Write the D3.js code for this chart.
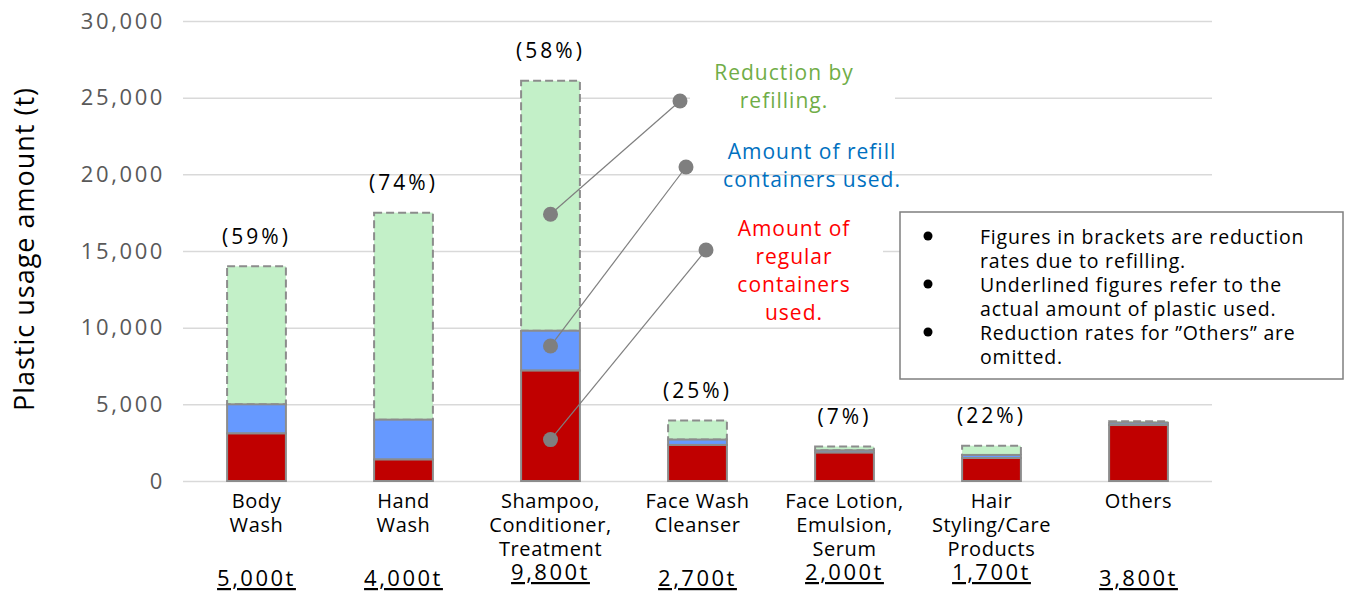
<!DOCTYPE html>
<html>
<head>
<meta charset="utf-8">
<script src="https://cdn.jsdelivr.net/npm/d3@7"></script>
<style>
  body { margin: 0; background: #fff; }
  text { font-family: "Open Sans", "Noto Sans", sans-serif; letter-spacing: 0.6px; }
</style>
</head>
<body>
<script>
// values (t)
const categories = [
  ["Body", "Wash"],
  ["Hand", "Wash"],
  ["Shampoo,", "Conditioner,", "Treatment"],
  ["Face Wash", "Cleanser"],
  ["Face Lotion,", "Emulsion,", "Serum"],
  ["Hair", "Styling/Care", "Products"],
  ["Others"]
];
const regularUsed = [3100, 1400, 7200, 2350, 1850, 1500, 3650];
const refillUsed = [1900, 2600, 2600, 350, 150, 200, 150];
const reduction = [9000, 13500, 16300, 1250, 250, 600, 100];
const rateLabels = ["(59%)", "(74%)", "(58%)", "(25%)", "(7%)", "(22%)", ""];
const actualLabels = ["5,000t", "4,000t", "9,800t", "2,700t", "2,000t", "1,700t", "3,800t"];
const yTicks = [0, 5000, 10000, 15000, 20000, 25000, 30000];

const notes = [
  ["Figures in brackets are reduction", "rates due to refilling."],
  ["Underlined figures refer to the", "actual amount of plastic used."],
  ["Reduction rates for \u201dOthers\u201d are", "omitted."]
];

// callouts: which segment value the dot sits on in the Shampoo bar
const callouts = [
  {lines: ["Reduction by", "refilling."], color: "#70ad47", value: 17400},
  {lines: ["Amount of refill", "containers used."], color: "#0070c0", value: 8800},
  {lines: ["Amount of", "regular", "containers", "used."], color: "#ff0000", value: 2700}
];

const W = 1357, H = 594;
const margin = {left: 183, right: 145, top: 21, bottom: 113};
const width = W - margin.left - margin.right;
const height = H - margin.top - margin.bottom;

const svg = d3.select("body").append("svg").attr("width", W).attr("height", H);
const g = svg.append("g").attr("transform", `translate(${margin.left}, ${margin.top})`);

const x = d3.scaleBand().domain(d3.range(categories.length)).range([0, width]).paddingInner(0.6).paddingOuter(0.3);
const y = d3.scaleLinear().domain([0, 30000]).range([height, 0]);

// y axis with gridlines
const yAxis = d3.axisLeft(y).tickValues(yTicks).tickSize(-width).tickPadding(18).tickFormat(d3.format(","));
const ax = g.append("g").call(yAxis);
ax.select(".domain").remove();
ax.selectAll(".tick line").attr("stroke", "#d9d9d9").attr("stroke-width", 1.5);
ax.selectAll(".tick text").attr("fill", "#595959").style("font-size", "22px").style("letter-spacing", "2.6px");

svg.append("text")
   .attr("transform", `translate(34, ${margin.top + height / 2 - 2}) rotate(-90)`)
   .attr("text-anchor", "middle")
   .style("font-size", "27px")
   .style("letter-spacing", "1px")
   .attr("fill", "#000")
   .text("Plastic usage amount (t)");

// stacked bars
const stacks = categories.map((c, i) => {
  const a = regularUsed[i], b = a + refillUsed[i], t = b + reduction[i];
  return {i, a, b, t};
});

const bars = g.selectAll("g.bar").data(stacks).enter().append("g").attr("class", "bar");
bars.append("rect")
    .attr("x", d => x(d.i)).attr("width", x.bandwidth())
    .attr("y", d => y(d.t)).attr("height", d => y(d.b) - y(d.t))
    .attr("fill", "#c3f0c8").attr("stroke", "#8c8c8c").attr("stroke-width", 2)
    .attr("stroke-dasharray", "8,4");
bars.append("rect")
    .attr("x", d => x(d.i)).attr("width", x.bandwidth())
    .attr("y", d => y(d.b)).attr("height", d => y(d.a) - y(d.b))
    .attr("fill", "#6699ff").attr("stroke", "#8c8c8c").attr("stroke-width", 2);
bars.append("rect")
    .attr("x", d => x(d.i)).attr("width", x.bandwidth())
    .attr("y", d => y(d.a)).attr("height", d => y(0) - y(d.a))
    .attr("fill", "#c00000").attr("stroke", "#8c8c8c").attr("stroke-width", 2);

// reduction rates
bars.append("text")
    .attr("x", d => x(d.i) + x.bandwidth() / 2)
    .attr("y", d => y(d.t) - 30)
    .attr("dy", "0.35em")
    .attr("text-anchor", "middle")
    .style("font-size", "21px")
    .style("letter-spacing", "3px")
    .text(d => rateLabels[d.i]);

// category labels
const catG = g.selectAll("text.cat").data(categories).enter().append("text")
    .attr("class", "cat")
    .attr("text-anchor", "middle")
    .attr("transform", (d, i) => `translate(${x(i) + x.bandwidth() / 2}, ${height + 27})`)
    .style("font-size", "20px");
catG.selectAll("tspan").data(d => d).enter().append("tspan")
    .attr("x", 0).attr("dy", (d, j) => j === 0 ? 0 : 24)
    .text(d => d);

g.selectAll("text.actual").data(actualLabels).enter().append("text")
    .attr("class", "actual")
    .attr("x", (d, i) => x(i) + x.bandwidth() / 2)
    .attr("y", (d, i) => height + (categories[i].length === 3 ? 99 : 105))
    .attr("text-anchor", "middle")
    .style("font-size", "22px")
    .style("letter-spacing", "2.5px")
    .style("text-decoration", "underline")
    .text(d => d);

// callouts from Shampoo bar
const sx = x(2) + x.bandwidth() / 2;
const boxes = [
  {x: 690, y: 55, w: 205, h: 62, tx: 784, ty: 80, dx: 680, dy: 101},
  {x: 712, y: 135, w: 200, h: 58, tx: 812, ty: 159, dx: 686, dy: 167},
  {x: 710, y: 208, w: 173, h: 118, tx: 794, ty: 236, dx: 706, dy: 250}
];
callouts.forEach((c, k) => {
  const b = boxes[k];
  if (k !== 1) {
    svg.append("rect").attr("x", b.x).attr("y", b.y).attr("width", b.w).attr("height", b.h).attr("fill", "#fff");
  }
  const t = svg.append("text").attr("text-anchor", "middle").attr("fill", c.color).style("font-size", "21px")
     .style("letter-spacing", "1px")
     .attr("transform", `translate(${b.tx}, ${b.ty})`);
  t.selectAll("tspan").data(c.lines).enter().append("tspan")
     .attr("x", 0).attr("dy", (d, j) => j === 0 ? 0 : 28).text(d => d);
  const px = margin.left + sx, py = margin.top + y(c.value);
  svg.append("line").attr("x1", px).attr("y1", py).attr("x2", b.dx).attr("y2", b.dy)
     .attr("stroke", "#7f7f7f").attr("stroke-width", 1.2);
  svg.append("circle").attr("cx", px).attr("cy", py).attr("r", 7.5).attr("fill", "#7f7f7f");
  svg.append("circle").attr("cx", b.dx).attr("cy", b.dy).attr("r", 7.5).attr("fill", "#7f7f7f");
});

// notes box
const nb = svg.append("g").attr("transform", "translate(900, 212)");
nb.append("rect").attr("width", 443).attr("height", 167).attr("fill", "#fff").attr("stroke", "#7f7f7f").attr("stroke-width", 1.5);
notes.forEach((n, k) => {
  nb.append("circle").attr("cx", 28).attr("cy", 25 + k * 48 - 1).attr("r", 4.5).attr("fill", "#000");
  n.forEach((line, j) => {
    nb.append("text").attr("x", 80).attr("y", 25 + k * 48 + j * 24).attr("dy", "0.35em")
      .style("font-size", "19.5px").style("letter-spacing", "0.8px").text(line);
  });
});
</script>
</body>
</html>
